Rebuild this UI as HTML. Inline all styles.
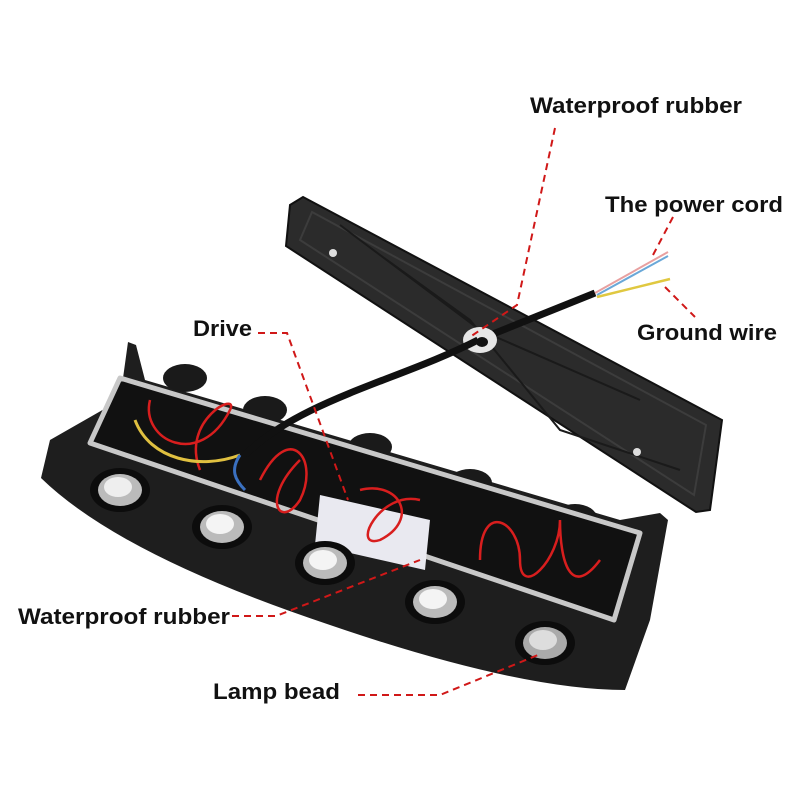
<!DOCTYPE html>
<html><head><style>
body{margin:0;background:#fff;}
svg{display:block}
text{font-family:"Liberation Sans",sans-serif;font-size:22px;font-weight:bold;fill:#111;}
</style></head><body>
<svg width="800" height="800" viewBox="0 0 800 800" xmlns="http://www.w3.org/2000/svg">
<rect width="800" height="800" fill="#fff"/>
<!-- cover plate -->
<polygon points="303,197 722,420 710,510 696,512 286,246 290,205" fill="#2b2b2b" stroke="#111" stroke-width="2"/>
<polygon points="312,212 706,425 694,495 300,240" fill="none" stroke="#3c3c3c" stroke-width="2"/>
<path d="M340,225 L480,330 L640,400 M380,255 L470,320 L560,430 L680,470" stroke="#1a1a1a" stroke-width="2" fill="none"/>
<circle cx="333" cy="253" r="4" fill="#ddd"/>
<circle cx="637" cy="452" r="4" fill="#ddd"/>
<!-- cable -->
<path d="M478,340 L595,293" stroke="#111" stroke-width="7" fill="none"/>
<path d="M595,293 L668,252" stroke="#e8a0a0" stroke-width="2"/>
<path d="M597,295 L668,256" stroke="#6aa8d8" stroke-width="2"/>
<path d="M597,297 L670,279" stroke="#e0c840" stroke-width="2.5"/>
<ellipse cx="480" cy="340" rx="17" ry="13" fill="#e6e6e6"/>
<ellipse cx="482" cy="342" rx="6" ry="5" fill="#111"/>
<!-- housing body -->
<path d="M128,342 L136,345 L145,380 L620,520 L660,513 L668,520 L650,620 L625,690 Q520,690 330,625 Q120,555 41,478 L50,440 L120,400 Z" fill="#1e1e1e"/>
<ellipse cx="185" cy="378" rx="22" ry="14" fill="#1a1a1a"/>
<ellipse cx="265" cy="410" rx="22" ry="14" fill="#1a1a1a"/>
<ellipse cx="370" cy="447" rx="22" ry="14" fill="#1a1a1a"/>
<ellipse cx="470" cy="483" rx="22" ry="14" fill="#1a1a1a"/>
<ellipse cx="575" cy="518" rx="22" ry="14" fill="#1a1a1a"/>
<!-- inner cavity -->
<polygon points="120,378 640,533 614,620 90,443" fill="#111" stroke="#c8c8c8" stroke-width="5" stroke-linejoin="round"/>
<polygon points="320,495 430,520 425,570 315,545" fill="#e9e9f0"/>
<g stroke="#d81e1e" stroke-width="2.5" fill="none">
<path d="M150,400 C140,440 200,470 230,410 C240,390 180,420 200,470"/>
<path d="M260,480 C290,420 320,460 300,500 C280,530 260,500 300,460"/>
<path d="M360,490 C400,480 420,520 380,540 C350,550 380,490 420,500"/>
<path d="M480,560 C480,500 520,520 520,560 C520,600 560,560 560,520 C560,560 570,600 600,560"/>
</g>
<path d="M135,420 C150,460 200,470 240,455" stroke="#e0c040" stroke-width="3" fill="none"/>
<path d="M240,455 C230,470 235,480 245,490" stroke="#3a70c0" stroke-width="3" fill="none"/>
<path d="M478,340 C400,380 300,400 245,455" stroke="#111" stroke-width="7" fill="none"/>
<g>
<ellipse cx="120" cy="490" rx="30" ry="22" fill="#0c0c0c"/><ellipse cx="120" cy="490" rx="22" ry="16" fill="#bbb"/><ellipse cx="118" cy="487" rx="14" ry="10" fill="#eee"/>
<ellipse cx="222" cy="527" rx="30" ry="22" fill="#0c0c0c"/><ellipse cx="222" cy="527" rx="22" ry="16" fill="#bbb"/><ellipse cx="220" cy="524" rx="14" ry="10" fill="#f4f4f4"/>
<ellipse cx="325" cy="563" rx="30" ry="22" fill="#0c0c0c"/><ellipse cx="325" cy="563" rx="22" ry="16" fill="#bbb"/><ellipse cx="323" cy="560" rx="14" ry="10" fill="#f4f4f4"/>
<ellipse cx="435" cy="602" rx="30" ry="22" fill="#0c0c0c"/><ellipse cx="435" cy="602" rx="22" ry="16" fill="#bbb"/><ellipse cx="433" cy="599" rx="14" ry="10" fill="#f4f4f4"/>
<ellipse cx="545" cy="643" rx="30" ry="22" fill="#0c0c0c"/><ellipse cx="545" cy="643" rx="22" ry="16" fill="#aaa"/><ellipse cx="543" cy="640" rx="14" ry="10" fill="#ddd"/>
</g>
<g stroke="#d01818" stroke-width="2" stroke-dasharray="7,5" fill="none">
<path d="M555,128 L517,305 L470,337"/>
<path d="M673,217 L653,255"/>
<path d="M665,287 L695,317"/>
<path d="M258,333 L287,333 L348,500"/>
<path d="M232,616 L276,616 L420,560"/>
<path d="M358,695 L440,695 L538,655"/>
</g>
<text x="530" y="113" textLength="212" lengthAdjust="spacingAndGlyphs">Waterproof rubber</text>
<text x="605" y="212" textLength="178" lengthAdjust="spacingAndGlyphs">The power cord</text>
<text x="637" y="340" textLength="140" lengthAdjust="spacingAndGlyphs">Ground wire</text>
<text x="193" y="336" textLength="59" lengthAdjust="spacingAndGlyphs">Drive</text>
<text x="18" y="624" textLength="212" lengthAdjust="spacingAndGlyphs">Waterproof rubber</text>
<text x="213" y="699" textLength="127" lengthAdjust="spacingAndGlyphs">Lamp bead</text>
</svg>
</body></html>
